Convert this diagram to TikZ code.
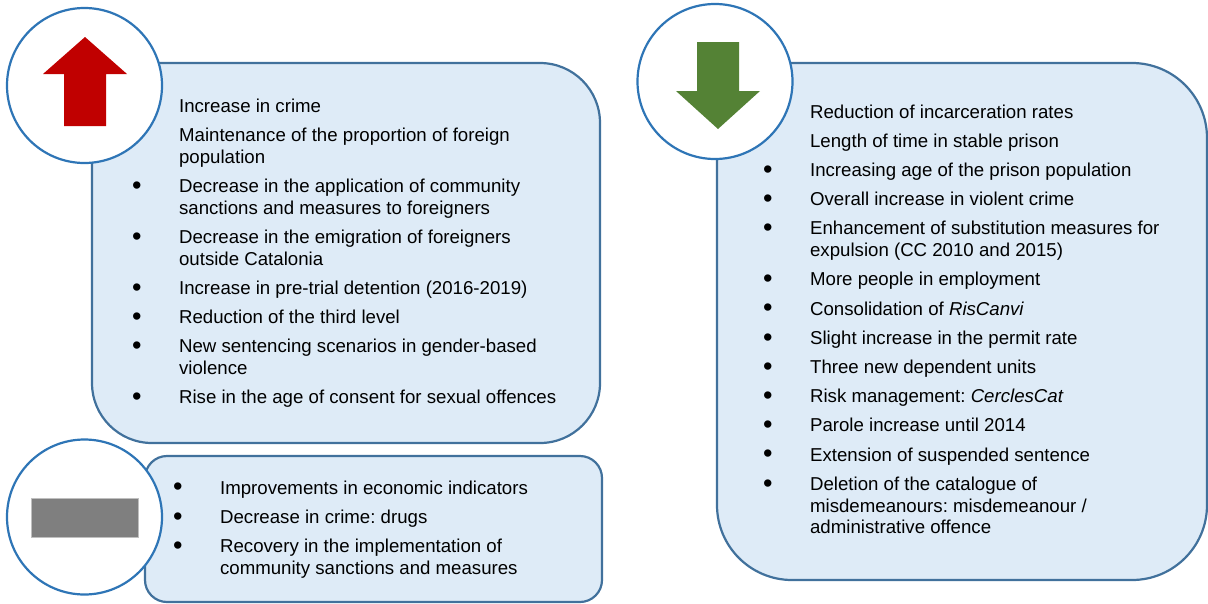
\documentclass[tikz,border=0pt]{standalone}
\usepackage{fontspec}
\setmainfont{Liberation Sans}
\definecolor{myBlue}{HTML}{2E75B6}
\definecolor{myFrame}{HTML}{41719C}
\definecolor{myFill}{HTML}{DEEBF7}
\definecolor{myRed}{HTML}{C00000}
\definecolor{myGreen}{HTML}{548235}
\definecolor{myGrey}{HTML}{7F7F7F}
\newcommand{\bul}{\hspace*{-1pt}\raisebox{-1.8pt}{\scalebox{1.45}{\textbullet}}}
\newcommand{\gap}{\\[7.4pt]}
\frenchspacing

\begin{document}
\begin{tikzpicture}[x=1pt, y=-1pt, line width=2.2pt]

  \tikzstyle{R}=[rectangle, draw=myFrame, fill=myFill, inner sep=0pt]
  \tikzstyle{O}=[circle, draw=myBlue, fill=white, minimum size=155pt, inner sep=0pt]
  \tikzstyle{L}=[anchor=base west, inner sep=0pt, font=\fontsize{18.65}{21.8}\selectfont]

  \useasboundingbox (0,0) rectangle (1208,603);

  \node[R, rounded corners=60pt, minimum width=508pt, minimum height=380pt] at (346,253) (upbox) {};
  \node[R, rounded corners=22pt, minimum width=457pt, minimum height=146pt] at (373.5,529) (flatbox) {};
  \node[R, rounded corners=75pt, minimum width=490pt, minimum height=517pt] at (962,321.5) (downbox) {};

  \node[O] at (84.5,85.5) (upring) {};
  \node[O] at (84.5,517) (flatring) {};
  \node[O] at (715,81.5) (downring) {};

  % arrows and bar inside the rings
  \fill[myRed] (85,37) -- (127,74) -- (106,74) -- (106,126) -- (64,126) -- (64,74) -- (43,74) -- cycle;
  \fill[myGreen] (718,129) -- (760,91) -- (739,91) -- (739,42) -- (697,42) -- (697,91) -- (676,91) -- cycle;
  \draw[fill=myGrey, draw=myGrey!50, line width=0.8pt] (31,498) rectangle (138,537);

  \node[L] at (132,112) (upitems) {\begin{tabular}[t]{@{}p{46pt}@{}l@{}}
     & Increase in crime\gap
     & Maintenance of the proportion of foreign\\
     & population\gap
    \bul & Decrease in the application of community\\
     & sanctions and measures to foreigners\gap
    \bul & Decrease in the emigration of foreigners\\
     & outside Catalonia\gap
    \bul & Increase in pre-trial detention (2016-2019)\gap
    \bul & Reduction of the third level\gap
    \bul & New sentencing scenarios in gender-based\\
     & violence\gap
    \bul & Rise in the age of consent for sexual offences
  \end{tabular}};

  \node[L] at (173,494) (flatitems) {\begin{tabular}[t]{@{}p{46pt}@{}l@{}}
    \bul & Improvements in economic indicators\gap
    \bul & Decrease in crime: drugs\gap
    \bul & Recovery in the implementation of\\
     & community sanctions and measures
  \end{tabular}};

  \node[L] at (763,118) (downitems) {\begin{tabular}[t]{@{}p{46pt}@{}l@{}}
     & Reduction of incarceration rates\gap
     & Length of time in stable prison\gap
    \bul & Increasing age of the prison population\gap
    \bul & Overall increase in violent crime\gap
    \bul & Enhancement of substitution measures for\\
     & expulsion (CC 2010 and 2015)\gap
    \bul & More people in employment\gap
    \bul & Consolidation of \textit{RisCanvi}\gap
    \bul & Slight increase in the permit rate\gap
    \bul & Three new dependent units\gap
    \bul & Risk management: \textit{CerclesCat}\gap
    \bul & Parole increase until 2014\gap
    \bul & Extension of suspended sentence\gap
    \bul & Deletion of the catalogue of\\
     & misdemeanours: misdemeanour /\\
     & administrative offence
  \end{tabular}};

\end{tikzpicture}
\end{document}
